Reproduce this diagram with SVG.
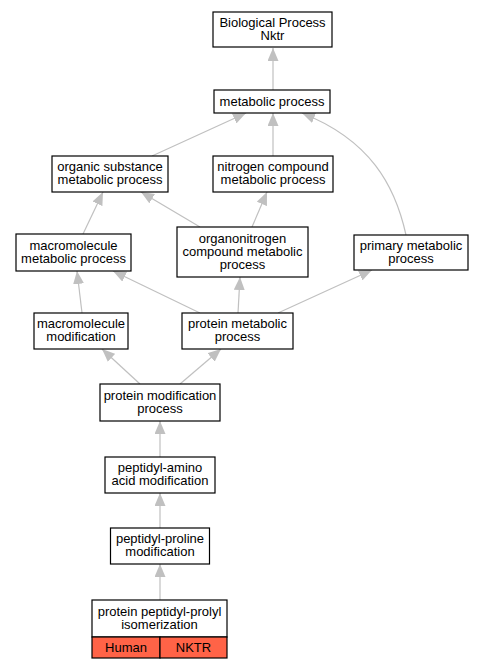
<svg xmlns="http://www.w3.org/2000/svg" width="483" height="669" viewBox="0 0 483 669">
<style>
.n rect{fill:#ffffff;stroke:#000000;stroke-width:1.2}
.n rect.sp{fill:#ff6347}
text{font-family:"Liberation Sans",Arial,sans-serif;font-size:13px;text-anchor:middle;fill:#000000}
.e path{fill:none;stroke:#c0c0c0;stroke-width:1.2}
</style>
<defs>
<marker id="ah" markerUnits="userSpaceOnUse" markerWidth="13" markerHeight="11" refX="13" refY="5.5" orient="auto" viewBox="0 0 13 11">
<path d="M0,0 L13,5.5 L0,11 z" fill="#c0c0c0"/>
</marker>
</defs>
<rect width="483" height="669" fill="#ffffff"/>
<g id="edges" class="e">
<path d="M273,90 L273,48" marker-end="url(#ah)"/>
<path d="M152,156 L246,113" marker-end="url(#ah)"/>
<path d="M273,156 L273,113" marker-end="url(#ah)"/>
<path d="M406,235 C395,185 370,140 302,113" marker-end="url(#ah)"/>
<path d="M200,227 L141,192" marker-end="url(#ah)"/>
<path d="M252,227 L267,192" marker-end="url(#ah)"/>
<path d="M83,234 L103,192" marker-end="url(#ah)"/>
<path d="M82,313 L77,271" marker-end="url(#ah)"/>
<path d="M200,313 L113,271" marker-end="url(#ah)"/>
<path d="M238,313 L240,277" marker-end="url(#ah)"/>
<path d="M278,313 L372,270" marker-end="url(#ah)"/>
<path d="M140,384 L102,349" marker-end="url(#ah)"/>
<path d="M180,384 L221,349" marker-end="url(#ah)"/>
<path d="M160,457 L160,421" marker-end="url(#ah)"/>
<path d="M160,528 L160,493" marker-end="url(#ah)"/>
<path d="M160,600 L160,564" marker-end="url(#ah)"/>
</g>
<g id="n_bio" class="n"><rect x="213" y="12" width="119" height="35"/><text x="272.5" y="26.5">Biological Process</text><text x="272.5" y="39.5">Nktr</text></g>
<g id="n_metabolic" class="n"><rect x="214" y="90" width="116" height="23"/><text x="272" y="106">metabolic process</text></g>
<g id="n_organic" class="n"><rect x="52" y="156" width="116" height="36"/><text x="110" y="171">organic substance</text><text x="110" y="184">metabolic process</text></g>
<g id="n_nitrogen" class="n"><rect x="213" y="156" width="120" height="36"/><text x="273" y="171">nitrogen compound</text><text x="273" y="184">metabolic process</text></g>
<g id="n_macrometab" class="n"><rect x="16" y="234" width="115" height="37"/><text x="73.5" y="249.5">macromolecule</text><text x="73.5" y="262.5">metabolic process</text></g>
<g id="n_organonitrogen" class="n"><rect x="177" y="227" width="131" height="50"/><text x="242.5" y="242.5">organonitrogen</text><text x="242.5" y="255.5">compound metabolic</text><text x="242.5" y="268.5">process</text></g>
<g id="n_primary" class="n"><rect x="354" y="235" width="114" height="35"/><text x="411" y="249.5">primary metabolic</text><text x="411" y="262.5">process</text></g>
<g id="n_macromod" class="n"><rect x="34" y="313" width="94" height="36"/><text x="81" y="328">macromolecule</text><text x="81" y="341">modification</text></g>
<g id="n_proteinmetab" class="n"><rect x="182" y="313" width="111" height="36"/><text x="237.5" y="328">protein metabolic</text><text x="237.5" y="341">process</text></g>
<g id="n_proteinmod" class="n"><rect x="100" y="384" width="120" height="37"/><text x="160" y="399.5">protein modification</text><text x="160" y="412.5">process</text></g>
<g id="n_aminoacid" class="n"><rect x="105" y="457" width="110" height="36"/><text x="160" y="472">peptidyl-amino</text><text x="160" y="485">acid modification</text></g>
<g id="n_proline" class="n"><rect x="110.5" y="528" width="99" height="36"/><text x="160" y="543">peptidyl-proline</text><text x="160" y="556">modification</text></g>
<g id="n_isomerization" class="n"><rect x="92" y="600" width="135" height="37"/><text x="159.5" y="615.5">protein peptidyl-prolyl</text><text x="159.5" y="628.5">isomerization</text><rect class="sp" x="92" y="637" width="68" height="21"/><text x="126" y="651.5">Human</text><rect class="sp" x="160" y="637" width="67" height="21"/><text x="193.5" y="651.5">NKTR</text></g>
</svg>
